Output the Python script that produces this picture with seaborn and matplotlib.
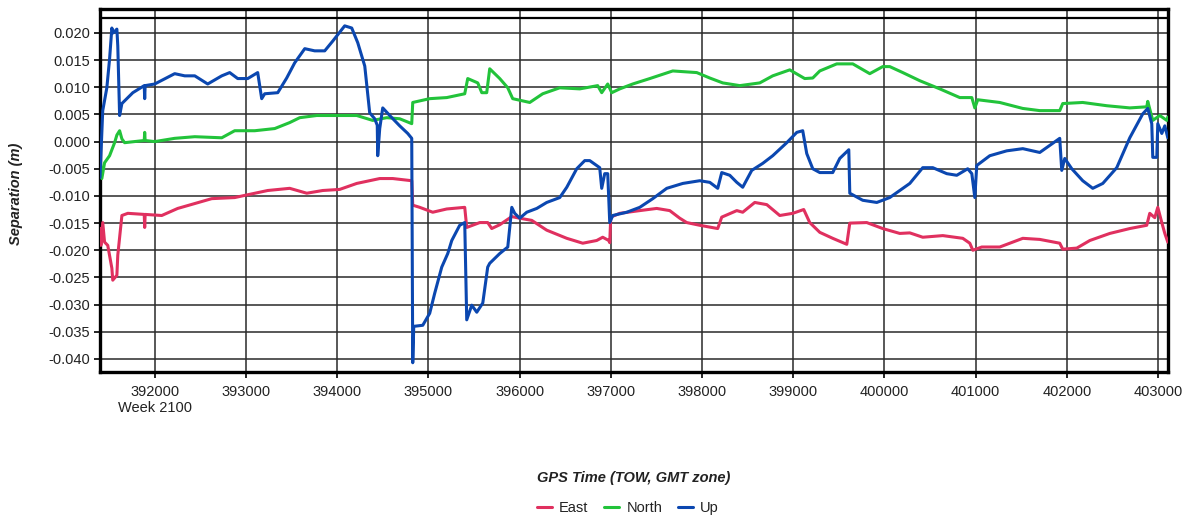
import numpy as np
import pandas as pd
import matplotlib
matplotlib.use("Agg")
import matplotlib.pyplot as plt
import seaborn as sns

# ---------------- data ----------------
up_x = [391400, 391430, 391475, 391505, 391530, 391545, 391585, 391595, 391615, 391640,
        391760, 391885, 391890, 391895, 392000, 392219, 392329, 392439, 392581, 392735,
        392822, 392910, 393020, 393129, 393173, 393206, 393349, 393447, 393535, 393645,
        393754, 393864, 393952, 394083, 394160, 394226, 394303, 394357, 394412, 394440,
        394445, 394467, 394500, 394577, 394686, 394774, 394818, 394829, 394840, 394939,
        395015, 395070, 395147, 395213, 395257, 395344, 395399, 395421, 395476, 395531,
        395597, 395651, 395673, 395783, 395871, 395915, 395947, 396002, 396079, 396189,
        396298, 396441, 396518, 396627, 396715, 396770, 396879, 396901, 396934, 396967,
        396989, 397022, 397176, 397318, 397461, 397614, 397790, 397976, 398086, 398173,
        398217, 398305, 398382, 398447, 398546, 398667, 398776, 398930, 399040, 399105,
        399149, 399215, 399292, 399434, 399511, 399610, 399621, 399763, 399917, 400026,
        400059, 400169, 400279, 400421, 400531, 400684, 400794, 400914, 400959, 400992,
        401013, 401156, 401342, 401518, 401704, 401814, 401923, 401945, 401978, 402055,
        402175, 402285, 402395, 402548, 402691, 402833, 402888, 402932, 402943, 402987,
        402998, 403042, 403075, 403108]
up_y = [-0.0066, 0.0057, 0.0099, 0.0152, 0.0209, 0.0200, 0.0207, 0.0176, 0.0048, 0.0070,
        0.0090, 0.0103, 0.0079, 0.0103, 0.0106, 0.0125, 0.0121, 0.0121, 0.0106, 0.0121,
        0.0127, 0.0116, 0.0116, 0.0127, 0.0079, 0.0088, 0.0090, 0.0117, 0.0145, 0.0171,
        0.0167, 0.0167, 0.0185, 0.0213, 0.0209, 0.0182, 0.0139, 0.0053, 0.0042, 0.0030,
        -0.0026, 0.0024, 0.0062, 0.0048, 0.0029, 0.0015, 0.0006, -0.0407, -0.0340, -0.0338,
        -0.0316, -0.0279, -0.0231, -0.0206, -0.0182, -0.0154, -0.0149, -0.0328, -0.0301, -0.0314,
        -0.0297, -0.0231, -0.0224, -0.0206, -0.0194, -0.0121, -0.0132, -0.0141, -0.0130, -0.0123,
        -0.0112, -0.0103, -0.0084, -0.0050, -0.0035, -0.0035, -0.0048, -0.0086, -0.0059, -0.0059,
        -0.0149, -0.0136, -0.0130, -0.0121, -0.0105, -0.0086, -0.0077, -0.0072, -0.0075, -0.0086,
        -0.0057, -0.0062, -0.0075, -0.0084, -0.0053, -0.0040, -0.0026, -0.0002, 0.0017, 0.0020,
        -0.0022, -0.0050, -0.0057, -0.0057, -0.0031, -0.0015, -0.0095, -0.0108, -0.0112, -0.0105,
        -0.0103, -0.0090, -0.0077, -0.0048, -0.0048, -0.0059, -0.0062, -0.0050, -0.0059, -0.0103,
        -0.0044, -0.0026, -0.0017, -0.0013, -0.0020, -0.0007, 0.0006, -0.0053, -0.0031, -0.0050,
        -0.0072, -0.0086, -0.0077, -0.0048, 0.0007, 0.0051, 0.0061, 0.0033, -0.0029, -0.0029,
        0.0033, 0.0015, 0.0029, 0.0007]

north_x = [391400, 391420, 391450, 391505, 391560, 391585, 391615, 391640, 391670, 391885,
           391890, 391895, 392000, 392219, 392439, 392735, 392877, 393097, 393316, 393480,
           393590, 393776, 394215, 394390, 394544, 394686, 394818, 394829, 395015, 395202,
           395399, 395432, 395542, 395586, 395640, 395673, 395783, 395871, 395925, 396112,
           396254, 396441, 396660, 396857, 396901, 396967, 397011, 397099, 397241, 397428,
           397680, 397943, 398086, 398228, 398415, 398634, 398776, 398963, 399127, 399215,
           399292, 399478, 399654, 399840, 399982, 400059, 400202, 400389, 400608, 400827,
           400959, 400992, 401024, 401265, 401518, 401704, 401923, 401956, 402175, 402439,
           402691, 402877, 402888, 402943, 403020, 403097, 403108]
north_y = [-0.0029, -0.0068, -0.0039, -0.0026, -0.0002, 0.0012, 0.0020, 0.0005, -0.0002, 0.0002,
           0.0017, 0.0002, 0.0000, 0.0006, 0.0009, 0.0007, 0.0020, 0.0020, 0.0024, 0.0035,
           0.0044, 0.0048, 0.0048, 0.0039, 0.0044, 0.0042, 0.0033, 0.0072, 0.0079, 0.0081,
           0.0088, 0.0116, 0.0108, 0.0090, 0.0090, 0.0134, 0.0116, 0.0099, 0.0079, 0.0072,
           0.0088, 0.0099, 0.0097, 0.0103, 0.0090, 0.0106, 0.0090, 0.0097, 0.0106, 0.0116,
           0.0130, 0.0127, 0.0117, 0.0108, 0.0103, 0.0108, 0.0121, 0.0132, 0.0116, 0.0117,
           0.0130, 0.0143, 0.0143, 0.0125, 0.0138, 0.0138, 0.0127, 0.0112, 0.0097, 0.0081,
           0.0081, 0.0062, 0.0077, 0.0072, 0.0061, 0.0057, 0.0057, 0.0070, 0.0072, 0.0066,
           0.0062, 0.0064, 0.0074, 0.0039, 0.0048, 0.0039, 0.0045]

east_x = [391400, 391410, 391430, 391450, 391485, 391530, 391540, 391585, 391595, 391640,
          391705, 391885, 391890, 391895, 392077, 392252, 392439, 392625, 392877, 392987,
          393239, 393480, 393667, 393842, 394028, 394215, 394467, 394610, 394818, 394829,
          394906, 395048, 395202, 395399, 395421, 395564, 395651, 395695, 395783, 395915,
          396002, 396134, 396298, 396518, 396693, 396846, 396912, 396978, 396989, 397000,
          397099, 397318, 397504, 397647, 397757, 397833, 397976, 398173, 398217, 398382,
          398447, 398579, 398711, 398853, 398996, 399116, 399182, 399292, 399434, 399588,
          399621, 399807, 399982, 400169, 400279, 400421, 400641, 400860, 400937, 400970,
          401068, 401265, 401518, 401704, 401923, 401956, 402110, 402253, 402472, 402691,
          402877, 402910, 402965, 402998, 403042, 403075, 403108]
east_y = [-0.0160, -0.0191, -0.0149, -0.0185, -0.0191, -0.0233, -0.0255, -0.0246, -0.0209, -0.0136,
          -0.0132, -0.0134, -0.0158, -0.0134, -0.0136, -0.0123, -0.0114, -0.0105, -0.0103, -0.0099,
          -0.0090, -0.0086, -0.0095, -0.0090, -0.0088, -0.0077, -0.0068, -0.0068, -0.0072, -0.0117,
          -0.0121, -0.0130, -0.0124, -0.0121, -0.0158, -0.0149, -0.0149, -0.0160, -0.0153, -0.0138,
          -0.0141, -0.0145, -0.0163, -0.0178, -0.0187, -0.0182, -0.0176, -0.0182, -0.0186, -0.0139,
          -0.0132, -0.0127, -0.0123, -0.0127, -0.0141, -0.0149, -0.0154, -0.0160, -0.0139, -0.0127,
          -0.0130, -0.0112, -0.0116, -0.0136, -0.0132, -0.0125, -0.0149, -0.0167, -0.0178, -0.0189,
          -0.0150, -0.0149, -0.0160, -0.0169, -0.0168, -0.0176, -0.0173, -0.0178, -0.0187, -0.0200,
          -0.0194, -0.0194, -0.0178, -0.0180, -0.0187, -0.0198, -0.0196, -0.0182, -0.0169, -0.0160,
          -0.0154, -0.0132, -0.0140, -0.0121, -0.0149, -0.0169, -0.0185]

series_names = ["East", "North", "Up"]
series_colors = ["#E0305F", "#22C33A", "#0B47B0"]
x_ticks = [392000, 393000, 394000, 395000, 396000, 397000, 398000, 399000,
           400000, 401000, 402000, 403000]
x_tick_labels = ["392000\nWeek 2100", "393000", "394000", "395000", "396000", "397000",
                 "398000", "399000", "400000", "401000", "402000", "403000"]
y_ticks = [-0.040, -0.035, -0.030, -0.025, -0.020, -0.015, -0.010, -0.005,
           0.000, 0.005, 0.010, 0.015, 0.020]

df = pd.concat([
    pd.DataFrame({"TOW": east_x, "Separation": east_y, "Component": "East"}),
    pd.DataFrame({"TOW": north_x, "Separation": north_y, "Component": "North"}),
    pd.DataFrame({"TOW": up_x, "Separation": up_y, "Component": "Up"}),
], ignore_index=True)

# ---------------- plotting ----------------
sns.set_style("white")
plt.rcParams["font.family"] = ["Liberation Sans", "DejaVu Sans"]

fig = plt.figure(figsize=(11.88, 5.18), dpi=100)
ax = fig.add_axes([100 / 1188, 1 - 372 / 518, 1068 / 1188, 363 / 518])

sns.lineplot(data=df, x="TOW", y="Separation", hue="Component",
             hue_order=series_names, palette=series_colors,
             estimator=None, sort=False, linewidth=2.2, ax=ax, legend=False, zorder=3)

ax.set_xlim(391400, 403110)
ax.set_ylim(-0.0424, 0.0244)

ax.set_xticks(x_ticks)
ax.set_xticklabels(x_tick_labels)
ax.set_yticks(y_ticks)
ax.set_yticklabels([f"{v:.3f}" for v in y_ticks])

ax.grid(True, color="#2a2a2a", linewidth=1.1, zorder=1)
ax.set_axisbelow(True)
ax.axhline(0.0228, color="black", linewidth=1.6, zorder=2)

for s in ax.spines.values():
    s.set_color("black")
    s.set_linewidth(2.4)

ax.tick_params(axis="both", which="major", direction="out", length=4, width=1.2,
               color="black", labelsize=10.5, labelcolor="#222222", pad=3,
               bottom=True, left=True)
ax.tick_params(axis="x", pad=5)

ax.set_xlabel("GPS Time (TOW, GMT zone)", fontsize=10.5, fontweight="bold",
              fontstyle="italic", color="#222222")
ax.set_ylabel("Separation (m)", fontsize=10.5, fontweight="bold",
              fontstyle="italic", color="#222222")
ax.xaxis.set_label_coords(0.5, -0.272)
ax.yaxis.set_label_coords(-0.072, 0.49)

handles = [plt.Line2D([], [], color=c, linewidth=2.2) for c in series_colors]
fig.legend(handles, series_names, loc="center", bbox_to_anchor=(628 / 1188, 1 - 508 / 518),
           ncol=3, frameon=False, fontsize=10.5, handlelength=1.0, handletextpad=0.5,
           columnspacing=1.1, labelcolor="#222222", borderpad=0.0)

fig.savefig("out.png", dpi=100, facecolor="white")
